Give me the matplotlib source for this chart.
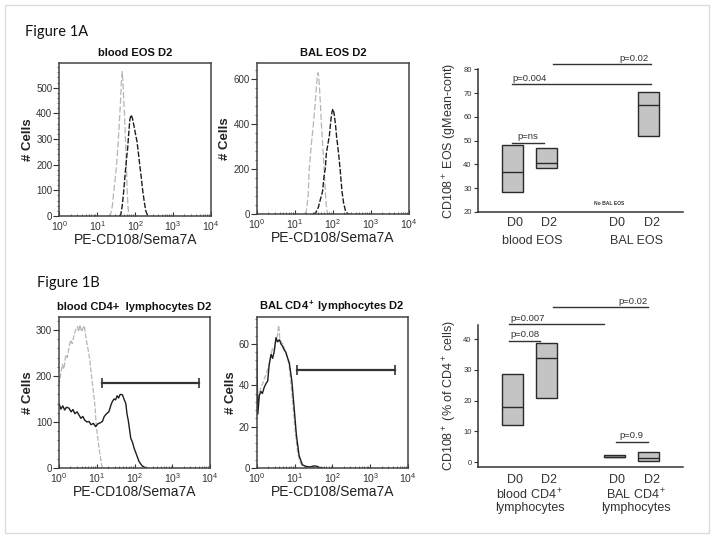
import matplotlib.pyplot as plt
from matplotlib.patches import Rectangle
from matplotlib.ticker import LogLocator, MultipleLocator, NullFormatter

plt.rcParams['font.family'] = ['Liberation Sans', 'DejaVu Sans']
plt.rcParams['mathtext.fontset'] = 'custom'
plt.rcParams['mathtext.rm'] = 'Liberation Sans'
plt.rcParams['mathtext.it'] = 'Liberation Sans'
plt.rcParams['mathtext.default'] = 'regular'

# ---- histogram data (PE-CD108/Sema7A intensity, # cells) ----
# blood EOS D2
blood_eos_iso_x = [20, 22.4, 25.1, 27.5, 31.6, 35.5, 38.9, 41.2, 43.7, 45.7, 47.9, 50.1, 53.7, 56.2, 58.9, 61.7, 64.6, 67.6, 72.4]
blood_eos_iso_y = [0, 5, 40, 100, 180, 280, 380, 450, 530, 562, 520, 450, 360, 280, 190, 100, 40, 8, 0]
blood_eos_x = [38, 41.7, 45.7, 50.1, 55, 58.9, 63.1, 67.6, 72.4, 78.5, 85.1, 93.3, 102, 112, 123, 132, 145, 158, 174, 191, 209, 229]
blood_eos_y = [0, 5, 40, 100, 170, 220, 260, 320, 375, 394, 380, 350, 320, 290, 240, 200, 150, 100, 55, 20, 5, 0]

# BAL EOS D2
bal_eos_iso_x = [17.8, 20, 22.4, 24, 26.9, 30.9, 33.9, 36.3, 38.9, 40.7, 42.7, 45.7, 50.1, 54.3, 58.9, 63.1, 66.1, 70.8, 75.9]
bal_eos_iso_y = [0, 10, 80, 200, 300, 400, 480, 550, 610, 628, 610, 530, 400, 300, 200, 110, 50, 10, 0]
bal_eos_x = [30.2, 35.5, 41.7, 47.9, 53.7, 58.9, 63.1, 67.6, 74.1, 81.3, 89.1, 95.5, 100, 107, 117, 126, 135, 145, 155, 166, 174, 191, 214, 240, 269]
bal_eos_y = [0, 5, 30, 70, 100, 170, 200, 270, 310, 350, 420, 455, 467, 450, 400, 340, 300, 250, 200, 140, 100, 50, 15, 3, 0]

# blood CD4+ lymphocytes D2
blood_cd4_iso_x = [1.0, 1.10, 1.23, 1.35, 1.51, 1.66, 1.86, 2.04, 2.24, 2.51, 2.75, 3.09, 3.31, 3.55, 3.98, 4.37, 4.68, 5.13, 5.62, 6.46, 7.59, 8.91, 9.77, 11.5, 13.5, 14.1]
blood_cd4_iso_y = [180, 202, 225, 215, 246, 240, 265, 278, 270, 289, 300, 307, 296, 311, 296, 305, 309, 285, 267, 238, 188, 137, 90, 43, 6, 0]
blood_cd4_x = [1, 1.12, 1.26, 1.41, 1.58, 1.84, 2.09, 2.34, 2.63, 3.02, 3.39, 3.80, 4.27, 4.79, 5.50, 6.24, 7.08, 8.13, 9.33, 10.7, 12.3,
               14.1, 15.8, 18.2, 20.9, 23.4, 25.7, 28.8, 31.6, 34.7, 38.0, 41.7, 47.9, 52.5, 58.9, 63.1, 69.2, 79.4, 89.1, 97.7, 112, 132, 158, 200]
blood_cd4_y = [140, 128, 135, 126, 132, 130, 122, 127, 118, 122, 115, 108, 112, 104, 100, 101, 94, 97, 90, 96, 98,
               101, 112, 118, 122, 135, 144, 150, 148, 157, 152, 160, 159, 150, 140, 118, 101, 65, 55, 43, 30, 14, 5, 0]
blood_cd4_gate = [13.8, 5100]
blood_cd4_gate_y = 185

# BAL CD4+ lymphocytes D2
bal_cd4_iso_x = [1.0, 1.07, 1.17, 1.29, 1.45, 1.58, 1.82, 2.14, 2.34, 2.63, 2.95, 3.24, 3.55, 3.80, 4.07, 4.37, 4.90, 5.37, 6.03, 6.61, 7.24, 7.76, 8.91, 10.5, 12.0, 13.8, 16.2, 20.0]
bal_cd4_iso_y = [40, 30, 36, 39, 41, 43, 46, 50, 54, 58, 57, 62, 64, 69, 63, 61, 60, 58, 55, 53, 49, 44, 32, 17.5, 8, 3, 1, 0]
bal_cd4_x = [1.0, 1.07, 1.17, 1.29, 1.41, 1.58, 1.78, 1.95, 2.14, 2.40, 2.63, 2.88, 3.24, 3.55, 3.98, 4.37, 4.79, 5.37, 5.89, 6.61, 7.24, 8.51,
             9.77, 11.2, 13.2, 16.2, 20.0, 25.1, 33.1, 39.8, 44.7, 56.2]
bal_cd4_y = [58, 26, 35, 37, 36, 39, 41, 42, 50, 55, 53, 56, 63, 61, 62, 60, 59, 57, 56, 53, 51, 42,
             29, 16, 6, 1.5, 0.8, 0.5, 1, 0.8, 0.3, 0]
bal_cd4_gate = [11.3, 4570]
bal_cd4_gate_y = 47.3

# ---- summary boxes (low, median, high); D0/D2 per group ----
day_labels = ['D0', 'D2', 'D0', 'D2']
eos_low = [28.5, 38.5, None, 52.0]
eos_med = [37.0, 40.6, None, 64.8]
eos_high = [48.0, 46.9, None, 70.6]
cd4_low = [12.0, 20.8, 1.5, 0.4]
cd4_med = [17.9, 33.8, 1.8, 1.3]
cd4_high = [28.6, 38.6, 2.2, 3.3]

W, H = 714, 538
fig = plt.figure(figsize=(W / 100, H / 100), dpi=100)
fig.patch.set_facecolor('white')


def px_rect(left, top, right, bottom):
    return [left / W, 1 - bottom / H, (right - left) / W, (bottom - top) / H]


def hist_panel(rect, title, iso_x, iso_y, x, y, ymax, ystep, yminor, part_b, gate=None, gate_y=None):
    ax = fig.add_axes(rect)
    if part_b:
        ax.plot(iso_x, iso_y, color='#b5b5b5', lw=0.9, ls=(0, (4, 1.5)))
        ax.plot(x, y, color='#1e1e1e', lw=1.0)
    else:
        ax.plot(iso_x, iso_y, color='#b5b5b5', lw=0.9, ls=(0, (5, 2)))
        ax.plot(x, y, color='#1e1e1e', lw=1.0, ls=(0, (4, 1.3)))
    if gate is not None:
        ax.plot(gate, [gate_y, gate_y], color='#333333', lw=1.6, marker='|', ms=7, mew=1.2)
    ax.set_xscale('log')
    ax.set_xlim(1, 1e4)
    ax.set_ylim(0, ymax)
    ax.xaxis.set_major_locator(LogLocator(base=10, numticks=10))
    ax.xaxis.set_minor_locator(LogLocator(base=10, subs=range(2, 10), numticks=10))
    ax.xaxis.set_minor_formatter(NullFormatter())
    ax.yaxis.set_major_locator(MultipleLocator(ystep))
    ax.yaxis.set_minor_locator(MultipleLocator(yminor))
    ax.tick_params(axis='x', which='major', direction='in', length=3, labelsize=7.5, pad=2.5, colors='#333333')
    ax.tick_params(axis='x', which='minor', direction='in', length=1.8, colors='#555555')
    ax.tick_params(axis='y', which='major', direction='out', length=4, labelsize=7, pad=1, colors='#333333')
    ax.tick_params(axis='y', which='minor', direction='out', length=1.5, colors='#555555')
    for s in ax.spines.values():
        s.set_color('#444444')
        s.set_linewidth(1.1)
    ax.set_title(title, fontsize=8, fontweight='bold', pad=5, color='#111111')
    ax.set_xlabel('PE-CD108/Sema7A', fontsize=10, labelpad=0, color='#222222')
    ax.set_ylabel('# Cells', fontsize=9.5, fontweight='bold', labelpad=1.5, color='#222222')
    return ax


def box_panel(rect, ylim, ystep, low, med, high, ylabel):
    ax = fig.add_axes(rect)
    slots = [1, 2, 4, 5]
    for xs, lo, md, hi in zip(slots, low, med, high):
        if lo is None:
            continue
        ax.bar(xs, hi - lo, bottom=lo, width=0.62, color='#c4c4c4', edgecolor='#2a2a2a', lw=1.0)
        ax.hlines(md, xs - 0.31, xs + 0.31, color='#2a2a2a', lw=1.0)
    ax.set_xlim(0, 6)
    ax.set_ylim(*ylim)
    ax.yaxis.set_major_locator(MultipleLocator(ystep))
    ax.set_xticks([])
    ax.tick_params(axis='y', direction='out', length=3, labelsize=5.5, pad=1.5, colors='#333333')
    ax.spines['top'].set_visible(False)
    ax.spines['right'].set_visible(False)
    for s in ('left', 'bottom'):
        ax.spines[s].set_color('#333333')
        ax.spines[s].set_linewidth(1.1)
    ax.set_ylabel(ylabel, fontsize=9, labelpad=3, color='#333333')
    tr = ax.get_xaxis_transform()
    for xs, lab in zip(slots, day_labels):
        ax.text(xs + 0.08, -0.075 if ylim[0] == 20 else -0.092, lab, transform=tr,
                ha='center', va='center', fontsize=9, color='#333333')
    return ax, tr


def p_bar(ax, x0, x1, y, label, tx, ha):
    ax.plot([x0, x1], [y, y], color='#333333', lw=1.0, clip_on=False)
    ax.text(tx, y + 0.6, label, ha=ha, va='bottom', fontsize=6.8, color='#333333', clip_on=False)


# ---- Figure 1A ----
hist_panel(px_rect(59.3, 63, 211, 216), 'blood EOS D2', blood_eos_iso_x, blood_eos_iso_y,
           blood_eos_x, blood_eos_y, 596, 100, 20, False)
hist_panel(px_rect(256.7, 63, 409, 214), 'BAL EOS D2', bal_eos_iso_x, bal_eos_iso_y,
           bal_eos_x, bal_eos_y, 671, 200, 40, False)

ax, tr = box_panel(px_rect(478, 69.3, 683, 212), (20, 80), 10, eos_low, eos_med, eos_high,
                   'CD108$^+$ EOS (gMean-cont)')
p_bar(ax, 1.0, 1.93, 49.2, 'p=ns', 1.46, 'center')
p_bar(ax, 1.0, 5.06, 73.7, 'p=0.004', 1.0, 'left')
p_bar(ax, 2.2, 5.06, 82.1, 'p=0.02', 5.0, 'right')
ax.text(3.85, 23.6, 'No BAL EOS', ha='center', va='center', fontsize=3.6, fontweight='bold', color='#333333')
ax.text(1.6, -0.2, 'blood EOS', transform=tr, ha='center', va='center', fontsize=9, color='#333333')
ax.text(4.65, -0.2, 'BAL EOS', transform=tr, ha='center', va='center', fontsize=9, color='#333333')

# ---- Figure 1B ----
hist_panel(px_rect(59, 317, 210, 468), 'blood CD4+  lymphocytes D2', blood_cd4_iso_x, blood_cd4_iso_y,
           blood_cd4_x, blood_cd4_y, 328, 100, 20, True, blood_cd4_gate, blood_cd4_gate_y)
hist_panel(px_rect(256.7, 317, 408, 468), 'BAL CD4$^+$ lymphocytes D2', bal_cd4_iso_x, bal_cd4_iso_y,
           bal_cd4_x, bal_cd4_y, 73, 20, 4, True, bal_cd4_gate, bal_cd4_gate_y)

ax, tr = box_panel(px_rect(478, 325, 683, 467), (-1.6, 44.6), 10, cd4_low, cd4_med, cd4_high,
                   'CD108$^+$ (% of CD4$^+$ cells)')
p_bar(ax, 0.91, 1.81, 39.3, 'p=0.08', 0.94, 'left')
p_bar(ax, 0.91, 3.69, 44.8, 'p=0.007', 0.94, 'left')
p_bar(ax, 2.2, 4.98, 50.3, 'p=0.02', 4.98, 'right')
p_bar(ax, 4.04, 4.98, 6.5, 'p=0.9', 4.49, 'center')
ax.text(1.5, -0.195, 'blood CD4$^+$', transform=tr, ha='center', va='center', fontsize=9, color='#333333')
ax.text(1.52, -0.29, 'lymphocytes', transform=tr, ha='center', va='center', fontsize=9, color='#333333')
ax.text(4.62, -0.195, 'BAL CD4$^+$', transform=tr, ha='center', va='center', fontsize=9, color='#333333')
ax.text(4.62, -0.29, 'lymphocytes', transform=tr, ha='center', va='center', fontsize=9, color='#333333')

fig.text(25 / W, 1 - 32 / H, 'Figure 1A', fontsize=10.5, family=['Lato', 'DejaVu Sans'], va='center', color='#111111')
fig.text(37 / W, 1 - 283 / H, 'Figure 1B', fontsize=10.5, family=['Lato', 'DejaVu Sans'], va='center', color='#111111')

fig.patches.append(Rectangle((5 / W, 5 / H), 704 / W, 528 / H, transform=fig.transFigure,
                             fill=False, ec='#dcdcdc', lw=1))

fig.savefig('out.png', dpi=100)
